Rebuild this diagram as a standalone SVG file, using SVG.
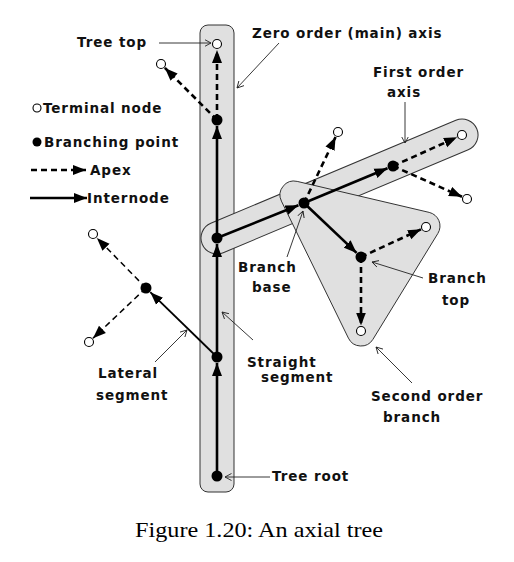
<svg xmlns="http://www.w3.org/2000/svg" width="514" height="562" viewBox="0 0 514 562">
<defs>
<style>
.region{fill:#e0e0e0;stroke:#333;stroke-width:1}
.solid{stroke:#000;stroke-width:2.6;fill:none;marker-end:url(#ah)}
.dash{stroke:#000;stroke-width:2.6;fill:none;stroke-dasharray:6 4;marker-end:url(#ah)}
.lsolid{stroke:#000;stroke-width:1.8;fill:none;marker-end:url(#ah)}
.ldash{stroke:#000;stroke-width:1.5;fill:none;stroke-dasharray:6 4;marker-end:url(#ah)}
.lead{stroke:#222;stroke-width:0.9;fill:none;marker-end:url(#oa)}
.br{fill:#000}
.term{fill:#fff;stroke:#000;stroke-width:1.1}
.lbl{font-family:"DejaVu Sans",sans-serif;font-weight:bold;font-size:13.5px;letter-spacing:0.9px;fill:#111}
.cap{font-family:"Liberation Serif",serif;font-size:21px;fill:#000}
</style>
<marker id="ah" markerUnits="userSpaceOnUse" markerWidth="14" markerHeight="11" refX="13" refY="5" orient="auto" viewBox="0 0 14 10">
<path d="M0,0 L13,5 L0,10 z" fill="#000"/>
</marker>
<marker id="oa" markerUnits="userSpaceOnUse" markerWidth="8" markerHeight="8" refX="6.5" refY="3.5" orient="auto" viewBox="0 0 8 7">
<path d="M0,0 L6.5,3.5 L0,7" fill="none" stroke="#222" stroke-width="0.9"/>
</marker>
</defs>

<g id="regions">
<rect id="main-axis" class="region" x="200" y="25" width="34" height="467" rx="8"/>
<rect id="first-order-axis" class="region" x="201" y="222" width="297.8" height="32" rx="16" transform="rotate(-22.8 217 238)"/>
<path id="second-order-branch" class="region" d="M297.2,181.4 L429.2,212.4 A14,14 0 0 1 437.9,233.4 L372.9,339.4 A14,14 0 0 1 348.4,338.1 L281.4,201.1 A14,14 0 0 1 297.2,181.4 Z"/>
</g>

<g id="connectors">
<line class="solid" x1="217" y1="476" x2="217" y2="363"/>
<line class="solid" x1="217" y1="357" x2="217" y2="244"/>
<line class="solid" x1="217" y1="238" x2="217" y2="126"/>
<line class="dash" x1="217" y1="120" x2="217" y2="50"/>
<line class="dash" x1="217" y1="120" x2="164.9" y2="67.9"/>
<line class="solid" x1="217" y1="238" x2="298.4" y2="205.2"/>
<line class="solid" x1="304" y1="203" x2="387.5" y2="168.3"/>
<line class="dash" x1="393" y1="166" x2="457" y2="137.3"/>
<line class="dash" x1="393" y1="166" x2="462" y2="196.8"/>
<line class="dash" x1="304" y1="203" x2="335.6" y2="137"/>
<line class="solid" x1="304" y1="203" x2="356.6" y2="252.9"/>
<line class="dash" x1="361" y1="257" x2="421" y2="229.3"/>
<line class="dash" x1="361" y1="257" x2="361" y2="325.5"/>
<line class="lsolid" x1="217" y1="357" x2="150.3" y2="292.2"/>
<line class="ldash" x1="146" y1="288" x2="96.9" y2="237.9"/>
<line class="ldash" x1="146" y1="288" x2="93" y2="338.2"/>
<line class="lead" x1="159" y1="43" x2="211" y2="43"/>
<line class="lead" x1="279" y1="43" x2="237" y2="88"/>
<line class="lead" x1="405" y1="102" x2="405" y2="143"/>
<line class="lead" x1="287" y1="257" x2="303" y2="211"/>
<line class="lead" x1="423" y1="278" x2="372" y2="262"/>
<line class="lead" x1="412" y1="383" x2="376" y2="347"/>
<line class="lead" x1="253" y1="340" x2="222" y2="312"/>
<line class="lead" x1="155" y1="362" x2="187" y2="330"/>
<line class="lead" x1="270" y1="477" x2="225" y2="477"/>
</g>

<g id="nodes">
<g id="root"><circle class="br" cx="217" cy="476" r="5.5"/></g>
<g id="n1"><circle class="br" cx="217" cy="357" r="5.5"/></g>
<g id="n2"><circle class="br" cx="217" cy="238" r="5.5"/></g>
<g id="n3"><circle class="br" cx="217" cy="120" r="5.5"/></g>
<g id="tree-top"><circle class="term" cx="217" cy="44" r="4.5"/></g>
<g id="t1"><circle class="term" cx="161" cy="64" r="4.5"/></g>
<g id="f1"><circle class="br" cx="304" cy="203" r="5.5"/></g>
<g id="f2"><circle class="br" cx="393" cy="166" r="5.5"/></g>
<g id="tf"><circle class="term" cx="462" cy="135" r="4.5"/></g>
<g id="tf2"><circle class="term" cx="467" cy="199" r="4.5"/></g>
<g id="tu"><circle class="term" cx="338" cy="132" r="4.5"/></g>
<g id="s1"><circle class="br" cx="361" cy="257" r="5.5"/></g>
<g id="ts1"><circle class="term" cx="426" cy="227" r="4.5"/></g>
<g id="ts2"><circle class="term" cx="361" cy="331" r="4.5"/></g>
<g id="l1"><circle class="br" cx="146" cy="288" r="5.5"/></g>
<g id="tl1"><circle class="term" cx="93" cy="234" r="4.5"/></g>
<g id="tl2"><circle class="term" cx="89" cy="342" r="4.5"/></g>
</g>

<g id="legend">
<circle class="term" cx="37" cy="108" r="4"/>
<text class="lbl" x="43" y="113">Terminal node</text>
<circle class="br" cx="37" cy="142" r="4.5"/>
<text class="lbl" x="44" y="147">Branching point</text>
<line class="dash" x1="31" y1="170" x2="86" y2="170" stroke-dasharray="5 4" stroke-width="2"/>
<text class="lbl" x="90" y="175">Apex</text>
<line class="solid" x1="30" y1="198" x2="87" y2="198" stroke-width="2"/>
<text class="lbl" x="87" y="203">Internode</text>
</g>

<g id="labels">
<text class="lbl" x="77" y="47">Tree top</text>
<text class="lbl" x="252" y="38">Zero order (main) axis</text>
<text class="lbl" x="373" y="77">First order</text>
<text class="lbl" x="387" y="97">axis</text>
<text class="lbl" x="238" y="272">Branch</text>
<text class="lbl" x="252" y="292">base</text>
<text class="lbl" x="428" y="283">Branch</text>
<text class="lbl" x="442" y="305">top</text>
<text class="lbl" x="247" y="367">Straight</text>
<text class="lbl" x="261" y="382">segment</text>
<text class="lbl" x="98" y="378">Lateral</text>
<text class="lbl" x="96" y="400">segment</text>
<text class="lbl" x="371" y="401">Second order</text>
<text class="lbl" x="383" y="422">branch</text>
<text class="lbl" x="272" y="481">Tree root</text>
<text class="cap" x="135" y="537" textLength="248" lengthAdjust="spacingAndGlyphs">Figure 1.20: An axial tree</text>
</g>
</svg>
